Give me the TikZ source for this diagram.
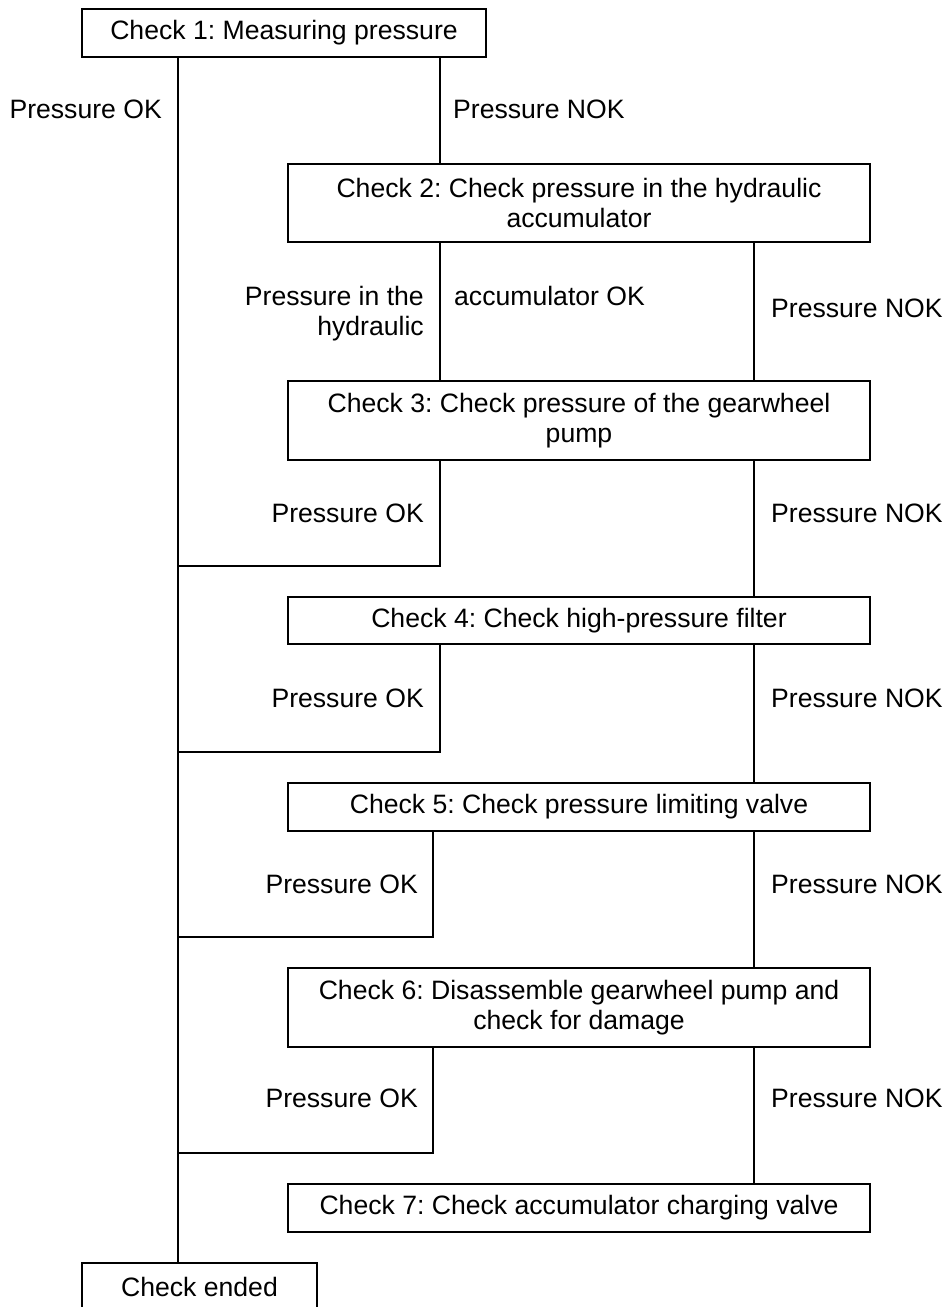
\documentclass[tikz,border=0pt]{standalone}
\usepackage{fontspec}
\setmainfont{Liberation Sans}
\frenchspacing
\begin{document}
\begin{tikzpicture}[x=1pt,y=-1pt,
  every node/.style={font=\fontsize{26.6}{30.6}\selectfont, inner sep=0pt},
  chkbox/.style={draw, line width=1.8pt, rectangle, align=center},
  wire/.style={line width=1.8pt}]
\useasboundingbox (0,0) rectangle (946,1307);
\clip (0,0) rectangle (946,1307);

% column positions of the vertical connectors
\coordinate (trunk) at (178,0);
\coordinate (colA) at (440,0);
\coordinate (colB) at (433,0);
\coordinate (colN) at (754,0);

% check boxes
\node[chkbox, minimum width=404pt, minimum height=48pt] (b1) at (284,33) {Check 1: Measuring pressure};
\node[chkbox, minimum width=582pt, minimum height=78pt] (b2) at (579,203) {Check 2: Check pressure in the hydraulic\\accumulator};
\node[chkbox, minimum width=582pt, minimum height=79pt] (b3) at (579,420.5) {Check 3: Check pressure of the gearwheel\\pump};
\node[chkbox, minimum width=582pt, minimum height=47pt] (b4) at (579,620.5) {Check 4: Check high-pressure filter};
\node[chkbox, minimum width=582pt, minimum height=48pt] (b5) at (579,807) {Check 5: Check pressure limiting valve};
\node[chkbox, minimum width=582pt, minimum height=79pt] (b6) at (579,1007.5) {Check 6: Disassemble gearwheel pump and\\check for damage};
\node[chkbox, minimum width=582pt, minimum height=48pt] (b7) at (579,1208) {Check 7: Check accumulator charging valve};
\node[chkbox, minimum width=235pt, minimum height=48pt] (end) at (199.5,1287) {Check ended};

% junctions on the trunk
\coordinate (j3) at (178,566);
\coordinate (j4) at (178,752);
\coordinate (j5) at (178,937);
\coordinate (j6) at (178,1153);

% trunk
\draw[wire] (b1.south -| trunk) -- (end.north -| trunk);

% connectors
\draw[wire] (b1.south -| colA) -- (b2.north -| colA);
\draw[wire] (b2.south -| colA) -- (b3.north -| colA);
\draw[wire] (b2.south -| colN) -- (b3.north -| colN);
\draw[wire] (b3.south -| colA) |- (j3);
\draw[wire] (b3.south -| colN) -- (b4.north -| colN);
\draw[wire] (b4.south -| colA) |- (j4);
\draw[wire] (b4.south -| colN) -- (b5.north -| colN);
\draw[wire] (b5.south -| colB) |- (j5);
\draw[wire] (b5.south -| colN) -- (b6.north -| colN);
\draw[wire] (b6.south -| colB) |- (j6);
\draw[wire] (b6.south -| colN) -- (b7.north -| colN);

% branch labels
\node[anchor=base east] (o1) at (162,118) {Pressure OK};
\node[anchor=base west] (n1) at (453,118) {Pressure NOK};
\node[anchor=north east, align=right] (o2) at (424,285.6) {Pressure in the\\hydraulic};
\node[anchor=base west] (a2) at (454,305) {accumulator OK};
\node[anchor=base west] (n2) at (771,317) {Pressure NOK};
\node[anchor=base east] (o3) at (424,522) {Pressure OK};
\node[anchor=base west] (n3) at (771,522) {Pressure NOK};
\node[anchor=base east] (o4) at (424,707) {Pressure OK};
\node[anchor=base west] (n4) at (771,707) {Pressure NOK};
\node[anchor=base east] (o5) at (418,893) {Pressure OK};
\node[anchor=base west] (n5) at (771,893) {Pressure NOK};
\node[anchor=base east] (o6) at (418,1107) {Pressure OK};
\node[anchor=base west] (n6) at (771,1107) {Pressure NOK};
\end{tikzpicture}
\end{document}
